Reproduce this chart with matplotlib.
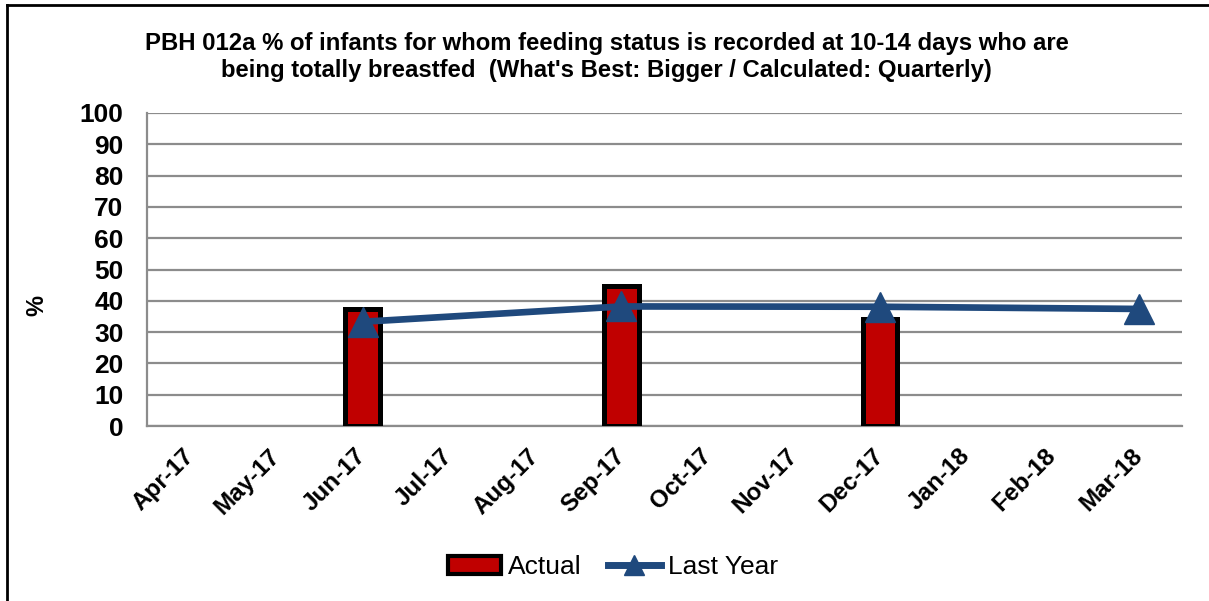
import numpy as np
import matplotlib
matplotlib.use("Agg")
import matplotlib.pyplot as plt
from matplotlib.lines import Line2D
from matplotlib.patches import Patch

plt.rcParams['font.family'] = ['Liberation Sans', 'DejaVu Sans']

months = ["Apr-17", "May-17", "Jun-17", "Jul-17", "Aug-17", "Sep-17",
          "Oct-17", "Nov-17", "Dec-17", "Jan-18", "Feb-18", "Mar-18"]
actual = [np.nan, np.nan, 37.5, np.nan, np.nan, 44.7,
          np.nan, np.nan, 34.2, np.nan, np.nan, np.nan]
last_year = [np.nan, np.nan, 33.3, np.nan, np.nan, 38.2,
             np.nan, np.nan, 38.1, np.nan, np.nan, 37.4]

title = ("PBH 012a % of infants for whom feeding status is recorded at 10-14 days who are\n"
         "being totally breastfed  (What's Best: Bigger / Calculated: Quarterly)")

bar_red = "#C00000"
line_blue = "#1F497D"
grid_grey = "#8C8C8C"

fig = plt.figure(figsize=(12.09, 6.01), dpi=100)
ax = fig.add_axes([147 / 1209, 1 - 426 / 601, (1182 - 147) / 1209, (426 - 113) / 601])

x = np.arange(len(months))
ax.bar(x, actual, width=0.40, color=bar_red, edgecolor="black", linewidth=3.6, zorder=3)

ly = np.array(last_year, dtype=float)
mask = ~np.isnan(ly)
ax.plot(x[mask], ly[mask], color=line_blue, linewidth=4.8, marker="^",
        markersize=21, markeredgecolor=line_blue, zorder=4)

ax.set_xlim(-0.5, len(months) - 0.5)
ax.set_ylim(0, 100)
ax.set_yticks(np.arange(0, 101, 10))
ax.set_xticks(x)
ax.set_xticklabels(months, rotation=45, ha="right", va="center",
                   rotation_mode="anchor", fontsize=17.5, fontweight="bold")
ax.tick_params(axis="x", length=0, pad=19)
ax.tick_params(axis="y", length=0, pad=17, labelsize=19)
for lbl in ax.get_yticklabels():
    lbl.set_fontweight("bold")

ax.yaxis.grid(True, color=grid_grey, linewidth=1.6, zorder=0)
ax.set_axisbelow(True)
for side in ("top", "right"):
    ax.spines[side].set_visible(False)
ax.spines["left"].set_color(grid_grey)
ax.spines["left"].set_linewidth(1.6)
ax.spines["bottom"].set_color(grid_grey)
ax.spines["bottom"].set_linewidth(1.6)

fig.text(37 / 1209, 1 - 305 / 601, "%", rotation=90, ha="center", va="center",
         fontsize=17, fontweight="bold")

fig.text(0.502, 1 - 57 / 601, title, ha="center", va="center",
         fontsize=17.2, fontweight="bold", linespacing=1.25)

handles = [Patch(facecolor=bar_red, edgecolor="black", linewidth=3),
           Line2D([0], [0], color=line_blue, linewidth=5, marker="^",
                  markersize=14)]
fig.legend(handles, ["Actual", "Last Year"], loc="center",
           bbox_to_anchor=(0.507, 1 - 567 / 601), ncol=2, frameon=False,
           fontsize=19, handlelength=2.0, handletextpad=0.27, columnspacing=1.0)

# chart frame (top and left edges)
fig.add_artist(Line2D([7 / 1209, 7 / 1209], [0, 1 - 5 / 601], color="black",
                      linewidth=2, transform=fig.transFigure))
fig.add_artist(Line2D([7 / 1209, 1], [1 - 5 / 601, 1 - 5 / 601], color="black",
                      linewidth=2, transform=fig.transFigure))

fig.savefig("out.png", dpi=100)
